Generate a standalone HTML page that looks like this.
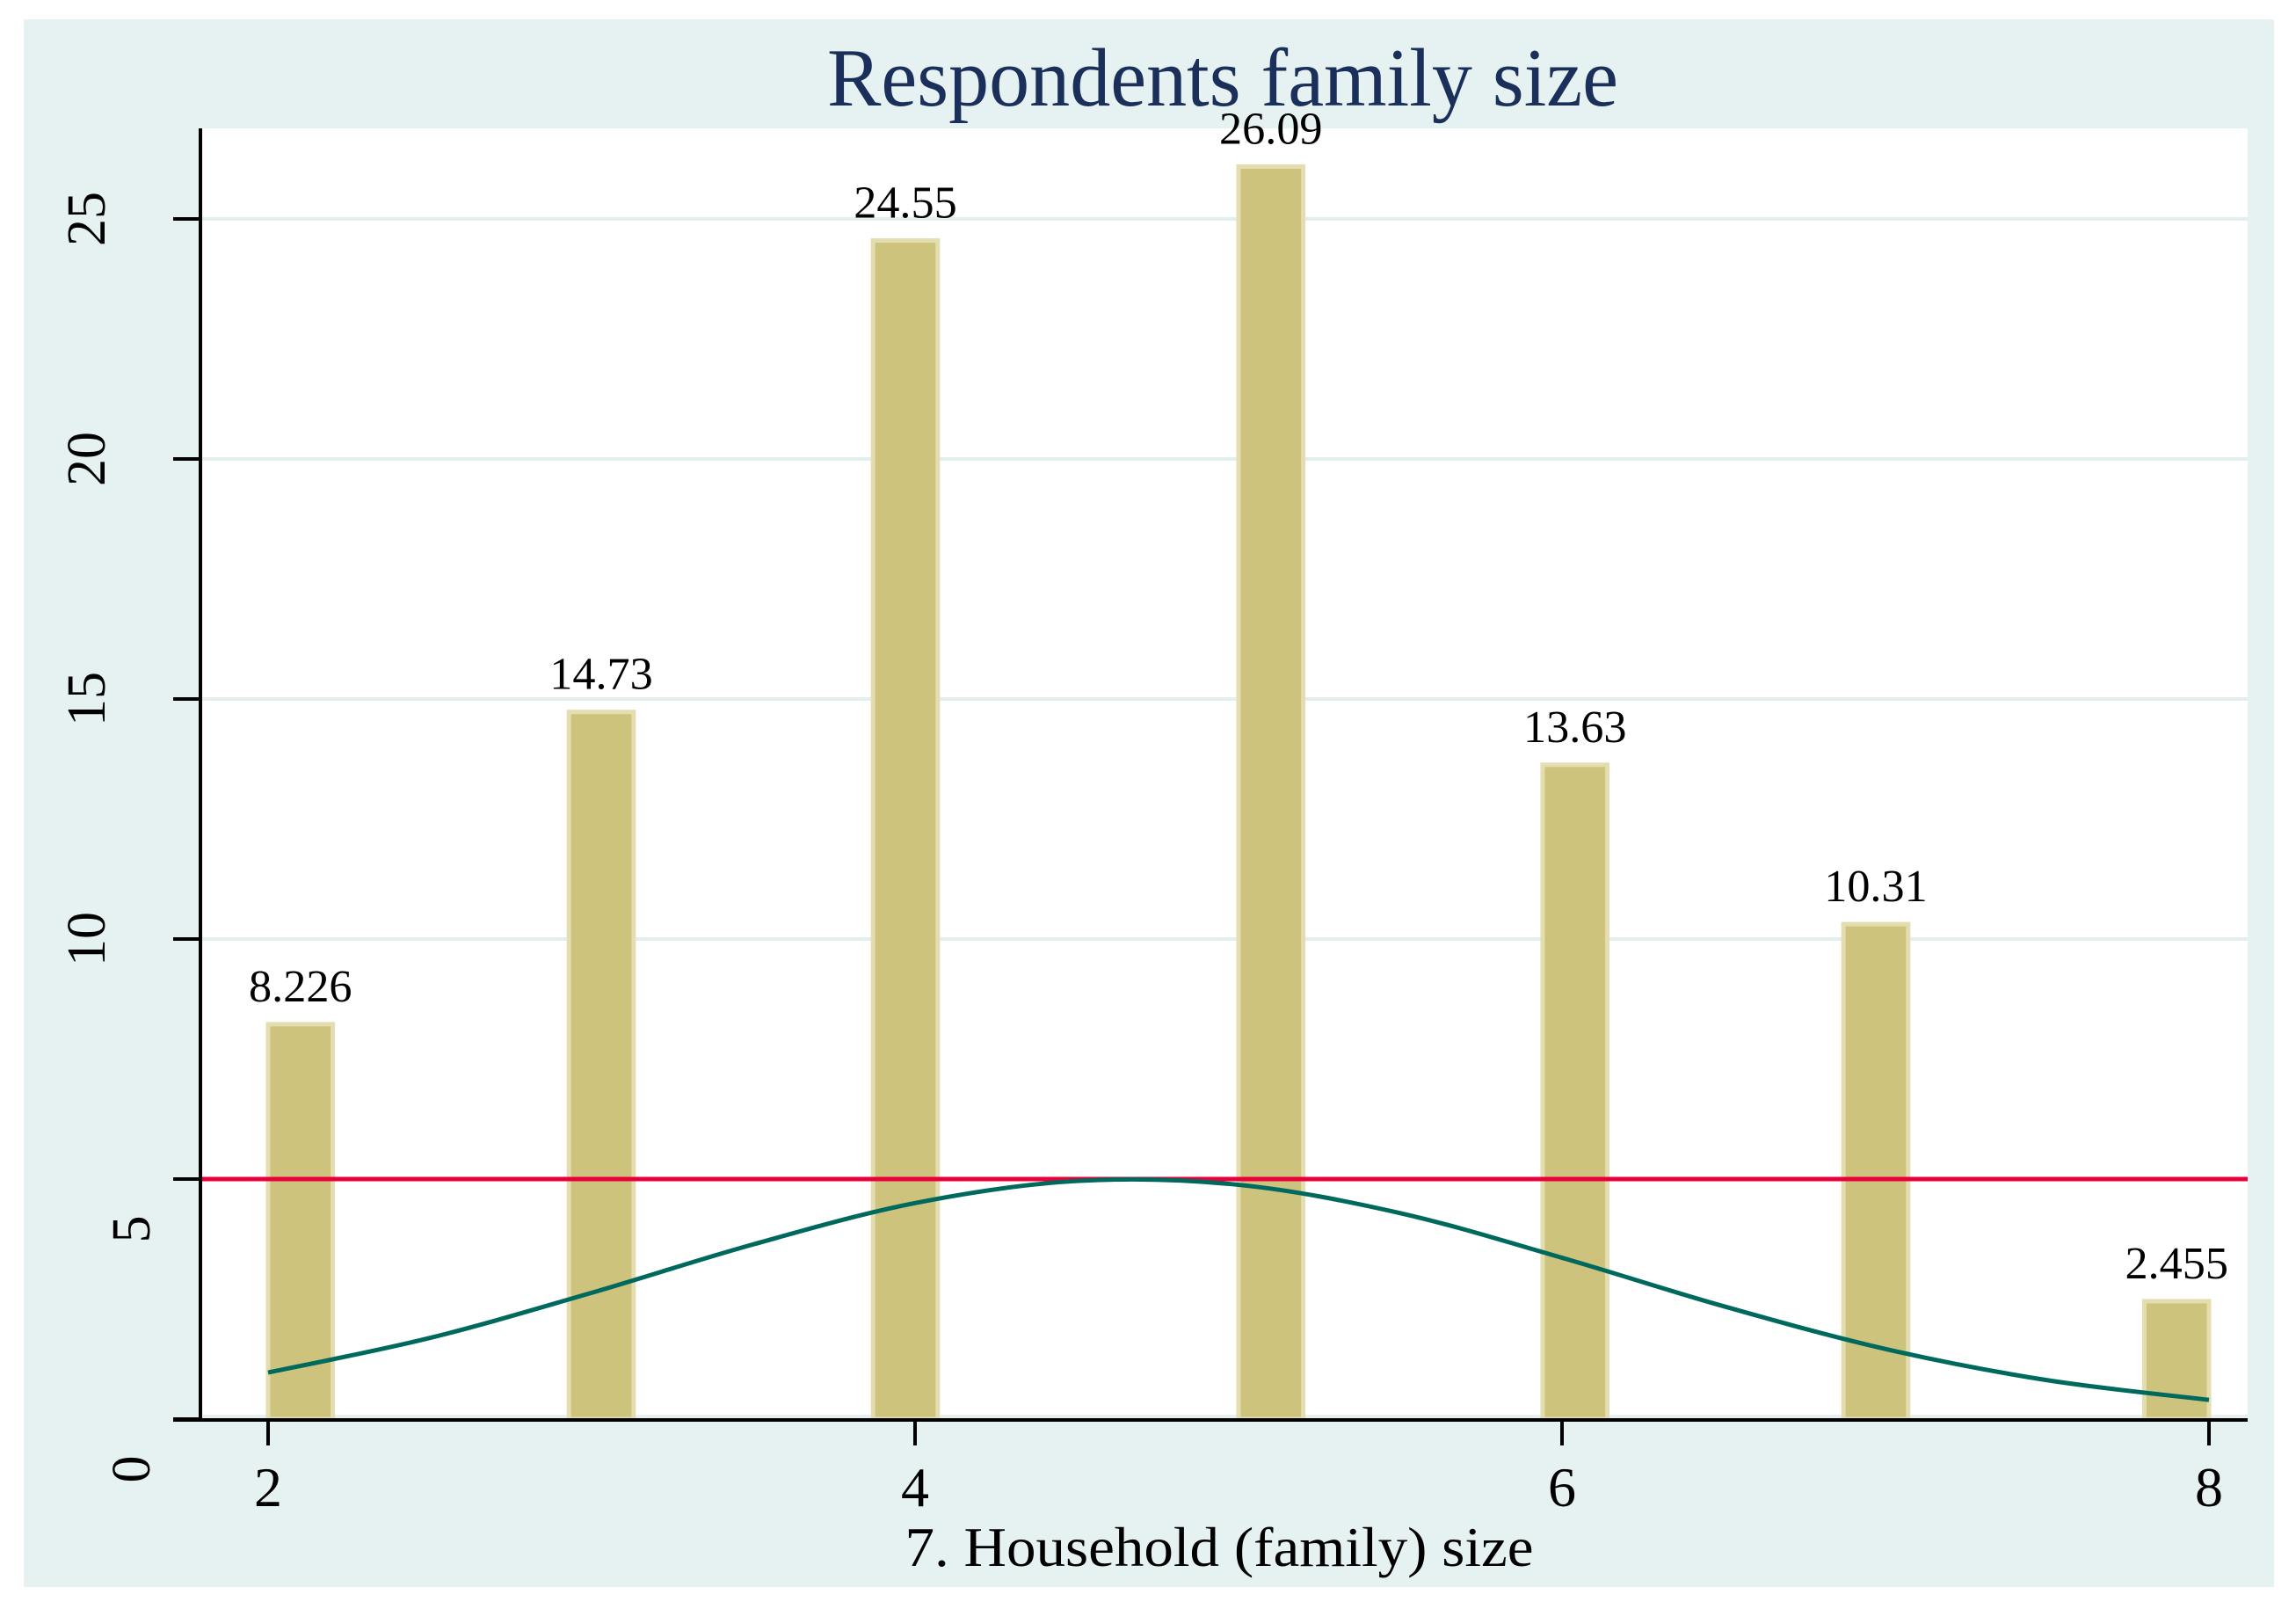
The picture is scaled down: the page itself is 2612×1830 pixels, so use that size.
<!DOCTYPE html>
<html><head><meta charset="utf-8"><style>
html,body{margin:0;padding:0;background:#fff;}
svg{display:block;font-family:"Liberation Serif",serif;}
</style></head><body>
<svg id="chart" width="2612" height="1830" viewBox="0 0 2612 1830" xmlns="http://www.w3.org/2000/svg">
<rect x="27" y="22" width="2560" height="1783" fill="#e6f1f1"/>
<rect x="228" y="146" width="2329" height="1463" fill="#ffffff"/>
<g id="grid"></g>
<g id="bars"></g>
<g id="lines"></g>
<g id="axes"></g>
<text x="1391" y="120" text-anchor="middle" font-size="94" fill="#1a2f5a" textLength="900" lengthAdjust="spacingAndGlyphs">Respondents family size</text>
<text x="1387" y="1781" text-anchor="middle" font-size="64" fill="#000" textLength="715" lengthAdjust="spacingAndGlyphs">7. Household (family) size</text>
</svg>
<script>
const binCenters = [2.1, 3.03, 3.97, 5.1, 6.04, 6.97, 7.9];
const binValues = [8.226, 14.73, 24.55, 26.09, 13.63, 10.31, 2.455];
const binLabels = ["8.226", "14.73", "24.55", "26.09", "13.63", "10.31", "2.455"];
const curveX = [2, 2.5, 3, 3.5, 4, 4.5, 5, 5.5, 6, 6.5, 7, 7.5, 8];
const curveY = [0.97, 1.69, 2.63, 3.64, 4.5, 4.96, 4.88, 4.29, 3.36, 2.35, 1.46, 0.81, 0.4];
const yTicks = [0, 5, 10, 15, 20, 25];
const xTicks = [2, 4, 6, 8];
const refLineValue = 5;
const binWidth = 0.2;

const NS = "http://www.w3.org/2000/svg";
function xs(v){ return 305 + (v - 2) * 368; }
function ys(v){ return 1614 - v * 54.6; }
function mk(tag, attrs, parent){
  const e = document.createElementNS(NS, tag);
  for (const k in attrs) e.setAttribute(k, attrs[k]);
  parent.appendChild(e);
  return e;
}
const grid = document.getElementById('grid');
const bars = document.getElementById('bars');
const lines = document.getElementById('lines');
const axes = document.getElementById('axes');

yTicks.forEach(t => {
  if (t === 0) return;
  const g = mk('line', {x1:228, x2:2557, y1:ys(t), y2:ys(t), stroke:'#e3efef', 'stroke-width':4}, grid);
  
  
});

binValues.forEach((v, i) => {
  const x0 = xs(binCenters[i] - binWidth/2), x1 = xs(binCenters[i] + binWidth/2);
  const r = mk('rect', {x:x0, y:ys(v), width:x1-x0, height:ys(0)-ys(v), fill:'#cdc37c', stroke:'#e4ddb0', 'stroke-width':5}, bars);
  
  
  const t = mk('text', {x:xs(binCenters[i]), y:ys(v)-26, 'text-anchor':'middle', 'font-size':52, fill:'#000', textLength: binLabels[i].length*23.5, lengthAdjust:'spacingAndGlyphs'}, bars);
  t.textContent = binLabels[i];
  
  
});

const ref = mk('line', {x1:228, x2:2557, y1:ys(refLineValue), y2:ys(refLineValue), stroke:'#e8003a', 'stroke-width':5}, lines);



const pts = curveX.map((x, i) => [xs(x), ys(curveY[i])]);
let d = 'M' + pts[0][0] + ',' + pts[0][1];
for (let i = 0; i < pts.length - 1; i++){
  const p0 = pts[Math.max(i-1,0)], p1 = pts[i], p2 = pts[i+1], p3 = pts[Math.min(i+2, pts.length-1)];
  const c1 = [p1[0] + (p2[0]-p0[0])/6, p1[1] + (p2[1]-p0[1])/6];
  const c2 = [p2[0] - (p3[0]-p1[0])/6, p2[1] - (p3[1]-p1[1])/6];
  d += ' C' + c1.join(',') + ' ' + c2.join(',') + ' ' + p2.join(',');
}
const curve = mk('path', {d:d, fill:'none', stroke:'#00695e', 'stroke-width':5}, lines);



const ya = mk('line', {x1:228, x2:228, y1:146, y2:1617, stroke:'#000', 'stroke-width':4}, axes);


const xa = mk('line', {x1:197, x2:2557, y1:1615, y2:1615, stroke:'#000', 'stroke-width':4}, axes);



yTicks.forEach(t => {
  const tk = mk('line', {x1:197, x2:228, y1:ys(t), y2:ys(t), stroke:'#000', 'stroke-width':4}, axes);
  
  
  const single = String(t).length === 1;
  const cx = single ? 150 : 99, cy = single ? ys(t) + 57 : ys(t);
  const lb = mk('text', {x:0, y:0, 'text-anchor':'middle', 'dominant-baseline':'central', 'font-size':62, fill:'#000', transform:'translate(' + cx + ',' + cy + ') rotate(-90)'}, axes);
  lb.textContent = String(t);
  
  
});

xTicks.forEach(t => {
  const tk = mk('line', {x1:xs(t), x2:xs(t), y1:1615, y2:1644, stroke:'#000', 'stroke-width':4}, axes);
  
  
  const lb = mk('text', {x:xs(t), y:1713, 'text-anchor':'middle', 'font-size':64, fill:'#000'}, axes);
  lb.textContent = String(t);
  
  
});
</script>
</body></html>
